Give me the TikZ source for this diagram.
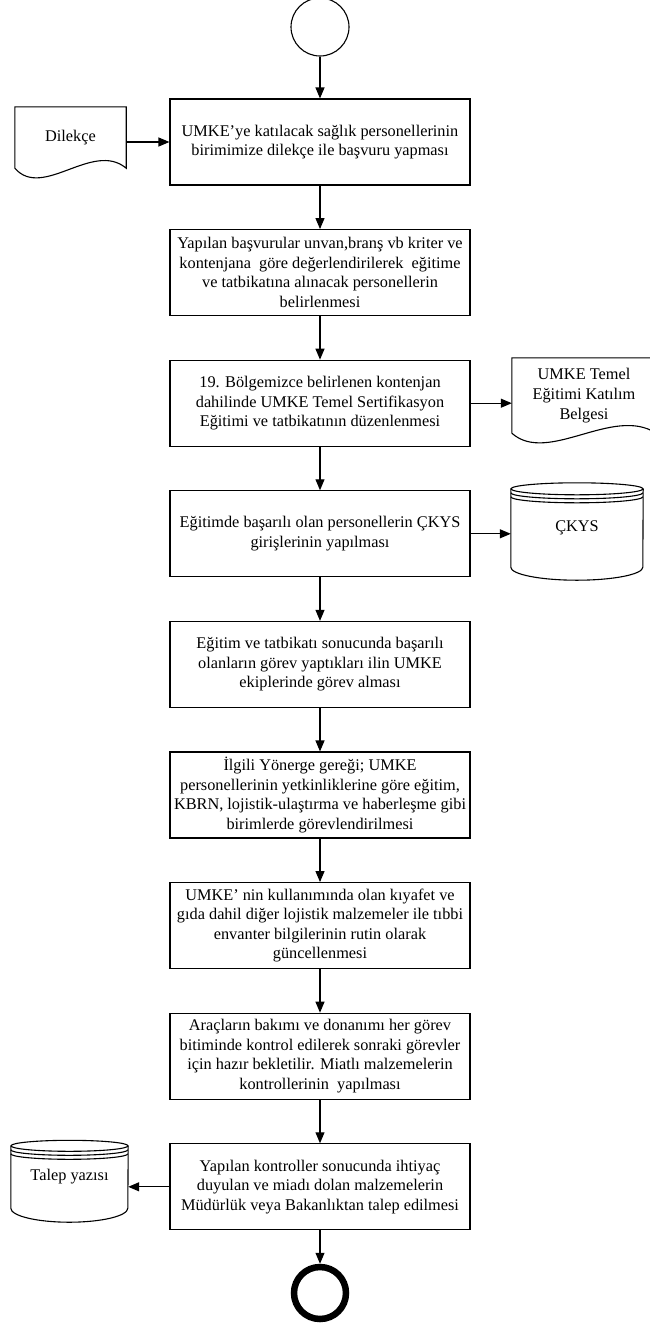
\documentclass[tikz,border=0pt]{standalone}
\usepackage{fontspec}
\setmainfont{Liberation Serif}
\usetikzlibrary{positioning,calc,arrows.meta}

\tikzset{
  procbox/.style={draw, line width=1.1pt, minimum width=300pt, minimum height=86pt,
    align=center, inner sep=2pt},
  sidenode/.style={inner sep=0pt, align=center},
  flow/.style={line width=1.1pt, -{Triangle[length=11pt,width=9pt]}},
}

% document symbol with wavy bottom, drawn round a plain node
\newcommand{\docoutline}[1]{%
  \draw[line width=1.1pt] (#1.south west) -- (#1.north west) -- (#1.north east) -- (#1.south east)
    .. controls ($(#1.south west)!0.7!(#1.south east)+(0,28)$)
       and ($(#1.south west)!0.25!(#1.south east)+(0,-32)$) .. (#1.south west);
}
% stored data symbol: #2 x radius, #3 top y radius, #4 bottom y radius
\newcommand{\dboutline}[4]{%
  \draw[line width=1.1pt] (#1.north) ellipse [x radius=#2, y radius=#3];
  \draw[line width=1.1pt] ([yshift=-4pt]#1.north west) arc[start angle=180, end angle=360, x radius=#2, y radius=#3];
  \draw[line width=1.1pt] ([yshift=-8pt]#1.north west) arc[start angle=180, end angle=360, x radius=#2, y radius=#3];
  \draw[line width=1.1pt] (#1.north west) -- (#1.south west)
    arc[start angle=180, end angle=360, x radius=#2, y radius=#4] -- (#1.north east);
}

\begin{document}
\begin{tikzpicture}[x=1pt, y=1pt, font=\fontsize{16.3}{19.6}\selectfont, node distance=43.5pt]
\useasboundingbox (0,0) rectangle (650,-1325);

% main flow
\node[draw, circle, line width=1.1pt, minimum size=58pt, inner sep=0pt] (start) at (320,-27) {};
\node[procbox] (p1) at (320,-142) {UMKE’ye katılacak sağlık personellerinin\\birimimize dilekçe ile başvuru yapması};
\node[procbox, below=of p1] (p2) {Yapılan başvurular unvan,branş vb kriter ve\\kontenjana\ \ göre değerlendirilerek\ \ eğitime\\ve tatbikatına alınacak personellerin\\belirlenmesi};
\node[procbox, below=of p2] (p3) {19. Bölgemizce belirlenen kontenjan\\dahilinde UMKE Temel Sertifikasyon\\Eğitimi ve tatbikatının düzenlenmesi};
\node[procbox, below=of p3] (p4) {Eğitimde başarılı olan personellerin ÇKYS\\girişlerinin yapılması};
\node[procbox, below=of p4] (p5) {Eğitim ve tatbikatı sonucunda başarılı\\olanların görev yaptıkları ilin UMKE\\ekiplerinde görev alması};
\node[procbox, below=of p5] (p6) {İlgili Yönerge gereği; UMKE\\personellerinin yetkinliklerine göre eğitim,\\KBRN, lojistik-ulaştırma ve haberleşme gibi\\birimlerde görevlendirilmesi};
\node[procbox, below=of p6] (p7) {UMKE’ nin kullanımında olan kıyafet ve\\gıda dahil diğer lojistik malzemeler ile tıbbi\\envanter bilgilerinin rutin olarak\\güncellenmesi};
\node[procbox, below=of p7] (p8) {Araçların bakımı ve donanımı her görev\\bitiminde kontrol edilerek sonraki görevler\\için hazır bekletilir. Miatlı malzemelerin\\kontrollerinin\ \ yapılması};
\node[procbox, below=of p8] (p9) {Yapılan kontroller sonucunda ihtiyaç\\duyulan ve miadı dolan malzemelerin\\Müdürlük veya Bakanlıktan talep edilmesi};
\node[draw, circle, line width=6.5pt, minimum size=52pt, inner sep=0pt] (stop) at (320,-1293) {};

% side documents and records
\node[sidenode, minimum width=111pt, minimum height=61pt] (dilekce) at (70.5,-137.5) {Dilekçe};
\node[sidenode, minimum width=144pt, minimum height=75pt] (belge) at (584,-395.5) {UMKE Temel\\Eğitimi Katılım\\Belgesi};
\node[sidenode, minimum width=132pt, minimum height=78pt] (ckys) at (577,-528) {ÇKYS};
\node[sidenode, minimum width=117pt, minimum height=62pt] (talep) at (69.5,-1177) {Talep yazısı};
\docoutline{dilekce}
\docoutline{belge}
\dboutline{ckys}{66}{6}{13}
\dboutline{talep}{58.5}{5.5}{14}

% connectors
\draw[flow] (start) -- (p1);
\foreach \a/\b in {p1/p2, p2/p3, p3/p4, p4/p5, p5/p6, p6/p7, p7/p8, p8/p9}
  \draw[flow] (\a) -- (\b);
\draw[flow] (p9) -- (stop);
\draw[flow] (dilekce.east |- p1.west) -- (p1.west);
\draw[flow] (p3.east) -- (p3.east -| belge.west);
\draw[flow] (p4.east) -- (p4.east -| ckys.west);
\draw[flow] (p9.west) -- (p9.west -| talep.east);
\end{tikzpicture}
\end{document}
